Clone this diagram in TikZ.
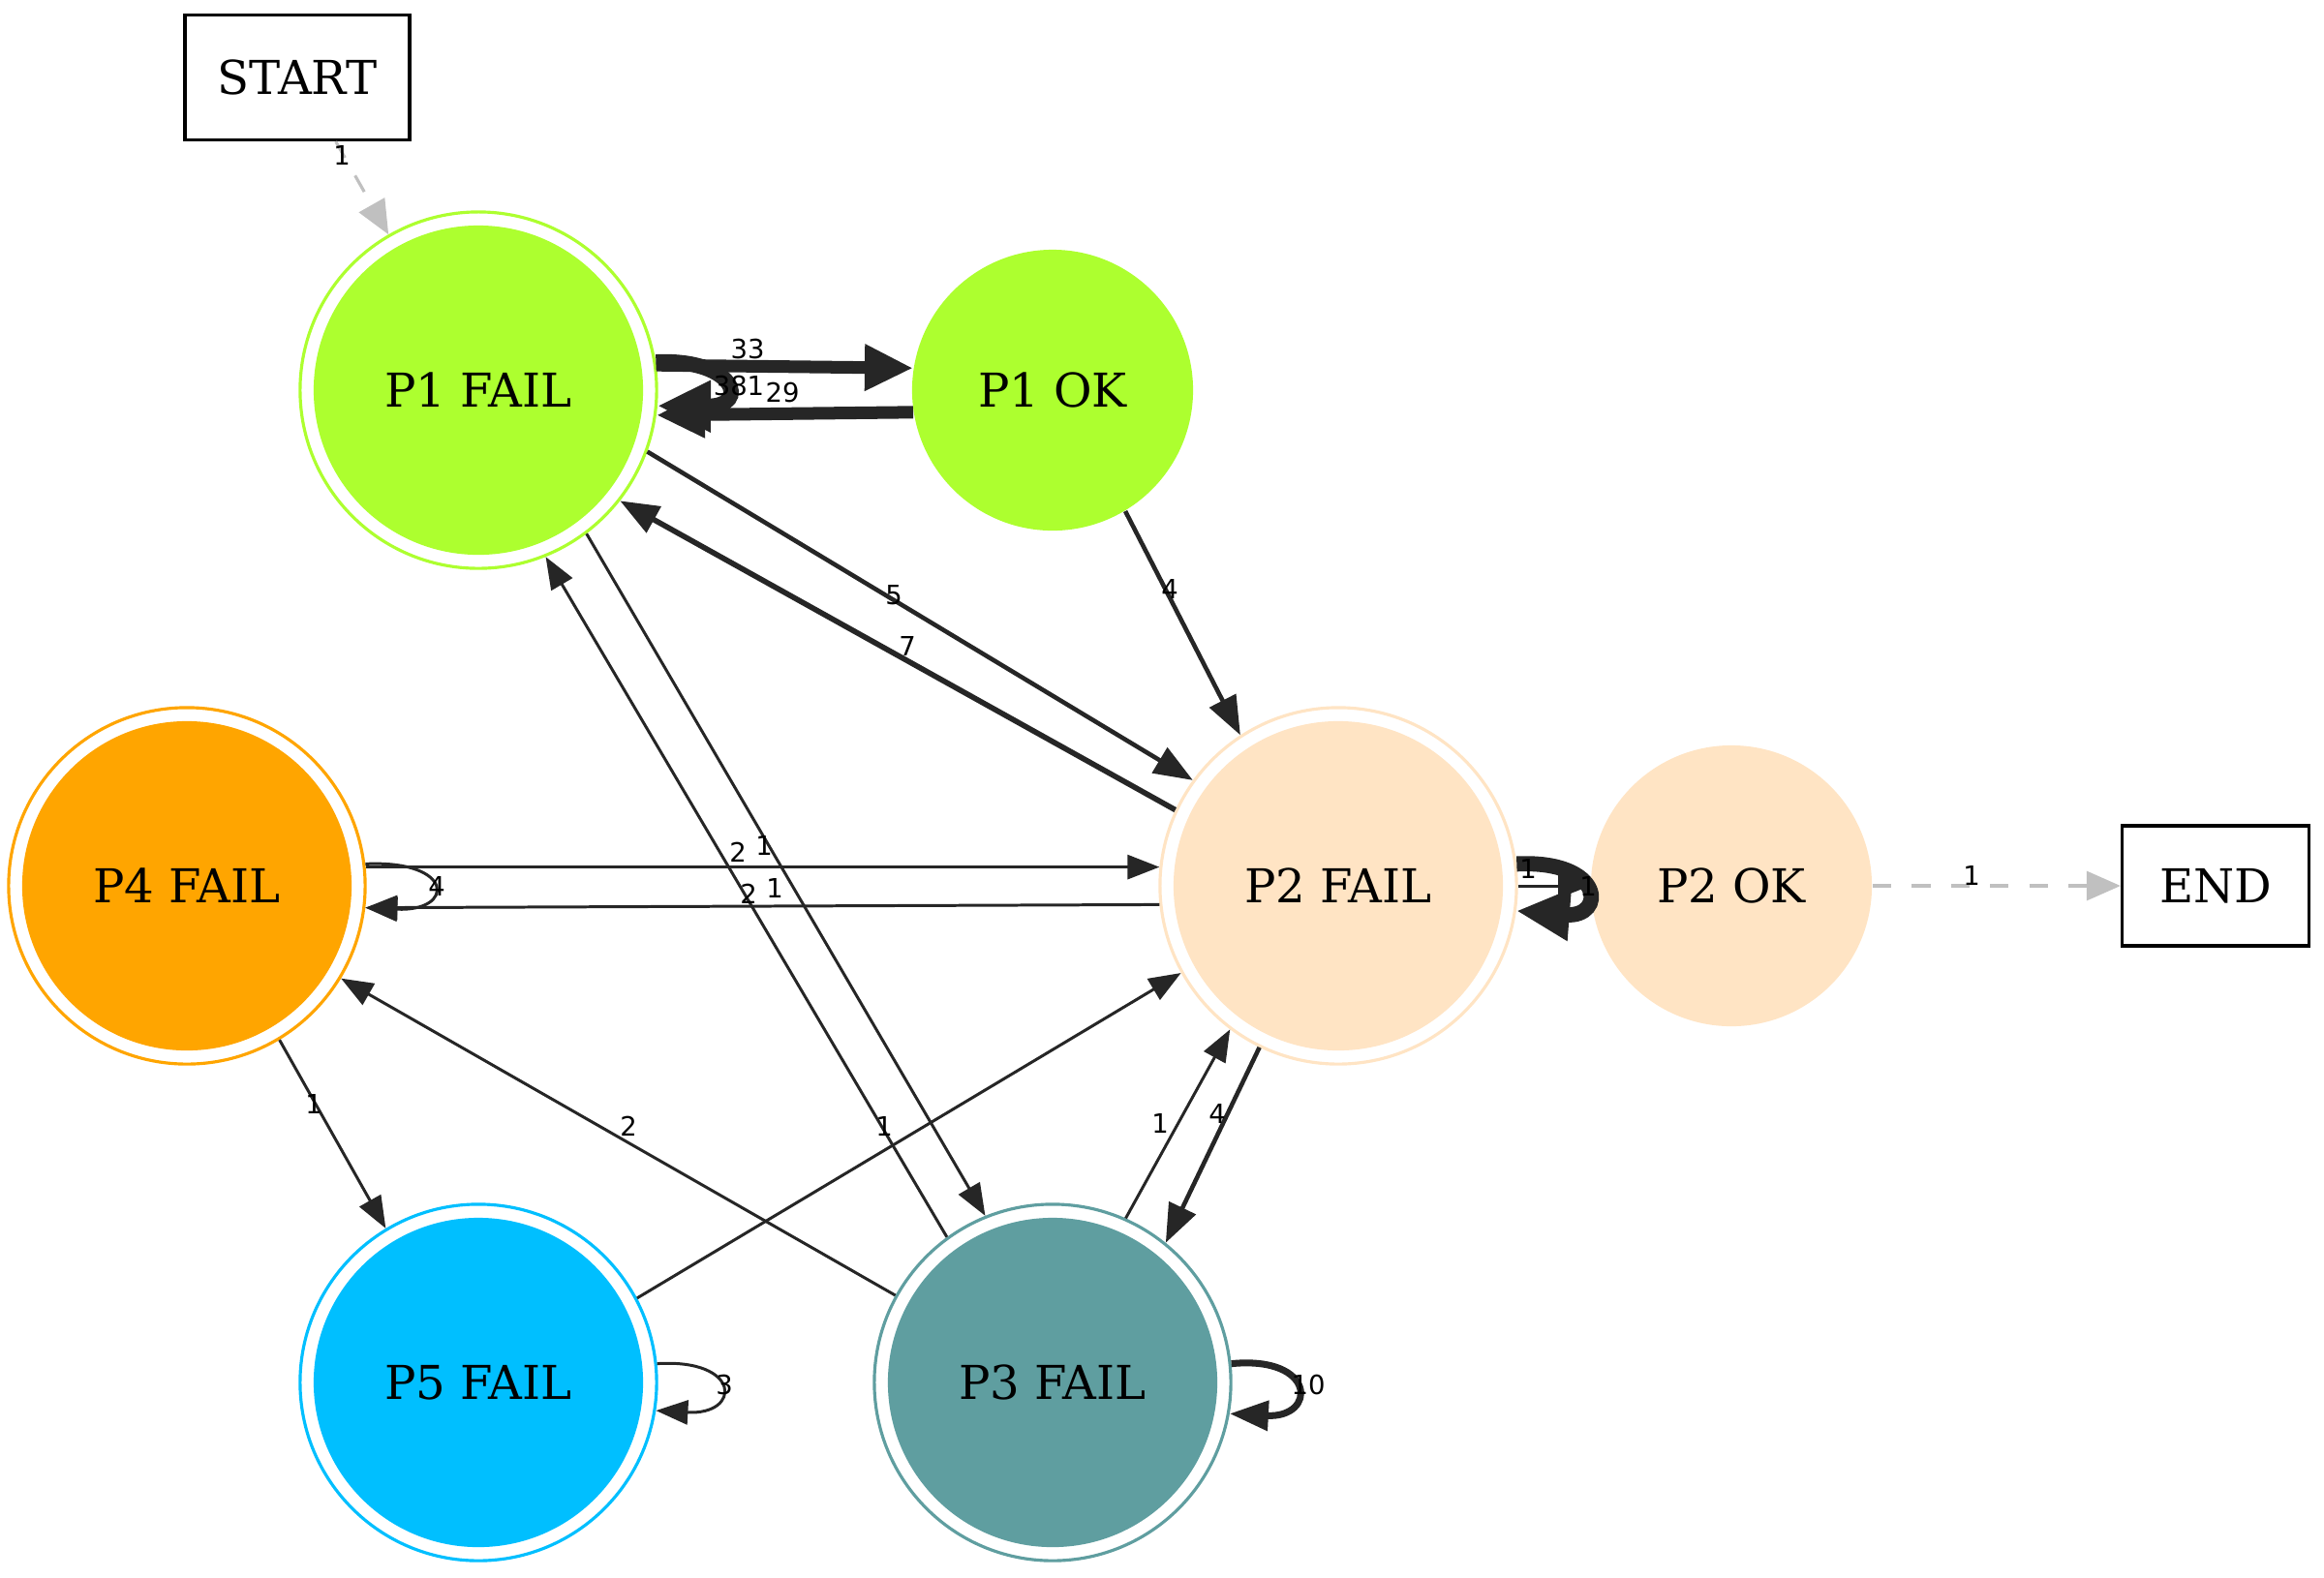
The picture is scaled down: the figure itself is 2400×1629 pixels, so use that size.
\documentclass[tikz,border=0pt]{standalone}
\usepackage{fontspec}
\setmainfont{DejaVu Serif}
\newfontfamily\labfont{DejaVu Sans}
\usetikzlibrary{arrows.meta}
\definecolor{ec}{HTML}{262626}
\definecolor{p1c}{HTML}{ADFF2F}
\definecolor{p2c}{HTML}{FFE4C4}
\definecolor{p3c}{HTML}{5F9EA0}
\definecolor{p4c}{HTML}{FFA500}
\definecolor{p5c}{HTML}{00BFFF}
\definecolor{gry}{HTML}{C0C0C0}
\begin{document}
\begin{tikzpicture}[x=0.01cm,y=-0.01cm,
  txt/.style={font=\fontsize{13.7}{16}\selectfont},
  dcirc/.style={circle, minimum size=3.68cm, inner sep=0pt, draw=#1, line width=0.9pt, fill=white, txt,
    path picture={\fill[#1] (path picture bounding box.center) circle (1.70cm);}},
  scirc/.style={circle, minimum size=2.9cm, inner sep=0pt, fill=#1, txt},
  boxnode/.style={draw, line width=0.9pt, txt, inner sep=0pt},
  lab/.style={font=\labfont\fontsize{7.8}{9}\selectfont, inner sep=0pt},
  thinedge/.style={draw=ec, line width=0.85pt, -{Triangle[length=0.33cm,width=0.25cm]}},
  mededge/.style={draw=ec, line width=1.3pt, -{Triangle[length=0.4cm,width=0.3cm]}},
  heavyedge/.style={draw=ec, line width=3.7pt, -{Triangle[length=0.5cm,width=0.45cm]}},
  vheavyedge/.style={draw=ec, line width=4.5pt, -{Triangle[length=0.55cm,width=0.5cm]}},
  grayedge/.style={draw=gry, line width=0.9pt, dash pattern=on 5.5pt off 6pt, -{Triangle[length=0.35cm,width=0.3cm]}},
]
\path[use as bounding box] (0,0) rectangle (2400,1629);
% nodes
\node[boxnode, minimum width=2.32cm, minimum height=1.29cm] (start) at (307,80) {START};
\node[boxnode, minimum width=1.93cm, minimum height=1.24cm] (end) at (2288,915) {END};
\node[dcirc=p1c] (p1f) at (494,403) {P1 FAIL};
\node[scirc=p1c] (p1ok) at (1087,403) {P1 OK};
\node[dcirc=p2c] (p2f) at (1382,915) {P2 FAIL};
\node[scirc=p2c] (p2ok) at (1788,915) {P2 OK};
\node[dcirc=p4c] (p4f) at (193,915) {P4 FAIL};
\node[dcirc=p5c] (p5f) at (494,1428) {P5 FAIL};
\node[dcirc=p3c] (p3f) at (1087,1428) {P3 FAIL};
% edges
\draw[grayedge] (start.-59) -- (p1f.120);
\draw[heavyedge] (p1f.8) -- (p1ok.171);
\draw[heavyedge] (p1ok.189) -- (p1f.-8);
\draw[vheavyedge] (p1f.9) .. controls (760,370) and (775,420) .. (p1f.-5);
\draw[mededge] (p1f.-20) -- (p2f.144);
\draw[mededge, line width=1.6pt] (p2f.155) -- (p1f.-38);
\draw[mededge] (p1ok.-59) -- (p2f.123);
\draw[thinedge] (p4f.6) -- (p2f.174);
\draw[thinedge] (p2f.186) -- (p4f.-7);
\draw[thinedge] (p4f.7) .. controls (470,888) and (470,942) .. (p4f.-7);
\draw[thinedge] (p4f.-59.5) -- (p5f.121);
\draw[thinedge] (p5f.6) .. controls (766,1403) and (766,1462) .. (p5f.-9);
\draw[mededge, line width=2pt] (p3f.6) .. controls (1360,1400) and (1360,1465) .. (p3f.-10);
\draw[thinedge] (p3f.151.5) -- (p4f.-31);
\draw[thinedge] (p5f.28.5) -- (p2f.209.5);
\draw[thinedge] (p3f.126.4) -- (p1f.-68.7);
\draw[thinedge] (p1f.-53) -- (p3f.112.7);
\draw[mededge] (p2f.244) -- (p3f.51.4);
\draw[thinedge] (p3f.66) -- (p2f.233.6);
\draw[thinedge] (p2f.0) -- (p2ok.180);
\draw[vheavyedge] (p2f.7) .. controls (1658,888) and (1658,948) .. (p2f.-8);
\draw[grayedge] (p2ok.0) -- (end.180);
% labels
\node[lab] (la) at (353,160) {1};
\node[lab] (lb) at (772,360) {33};
\node[lab] (lc) at (808,405) {29};
\node[lab] (ld) at (763,398) {381};
\node[lab] (le) at (923,615) {5};
\node[lab] (lf) at (937,667) {7};
\node[lab] (lg) at (1208,608) {4};
\node[lab] (lh) at (762,880) {2};
\node[lab] (li) at (789,873) {1};
\node[lab] (lj) at (773,923) {2};
\node[lab] (lk) at (800,917) {1};
\node[lab] (ll) at (451,915) {4};
\node[lab] (lm) at (324,1140) {1};
\node[lab] (ln) at (649,1163) {2};
\node[lab] (lo) at (913,1163) {1};
\node[lab] (lp) at (1198,1160) {1};
\node[lab] (lq) at (1257,1150) {4};
\node[lab] (lr) at (748,1430) {3};
\node[lab] (ls) at (1351,1430) {10};
\node[lab] (lt) at (1578,897) {1};
\node[lab] (lu) at (1640,915) {1};
\node[lab] (lv) at (2036,904) {1};
\end{tikzpicture}
\end{document}
